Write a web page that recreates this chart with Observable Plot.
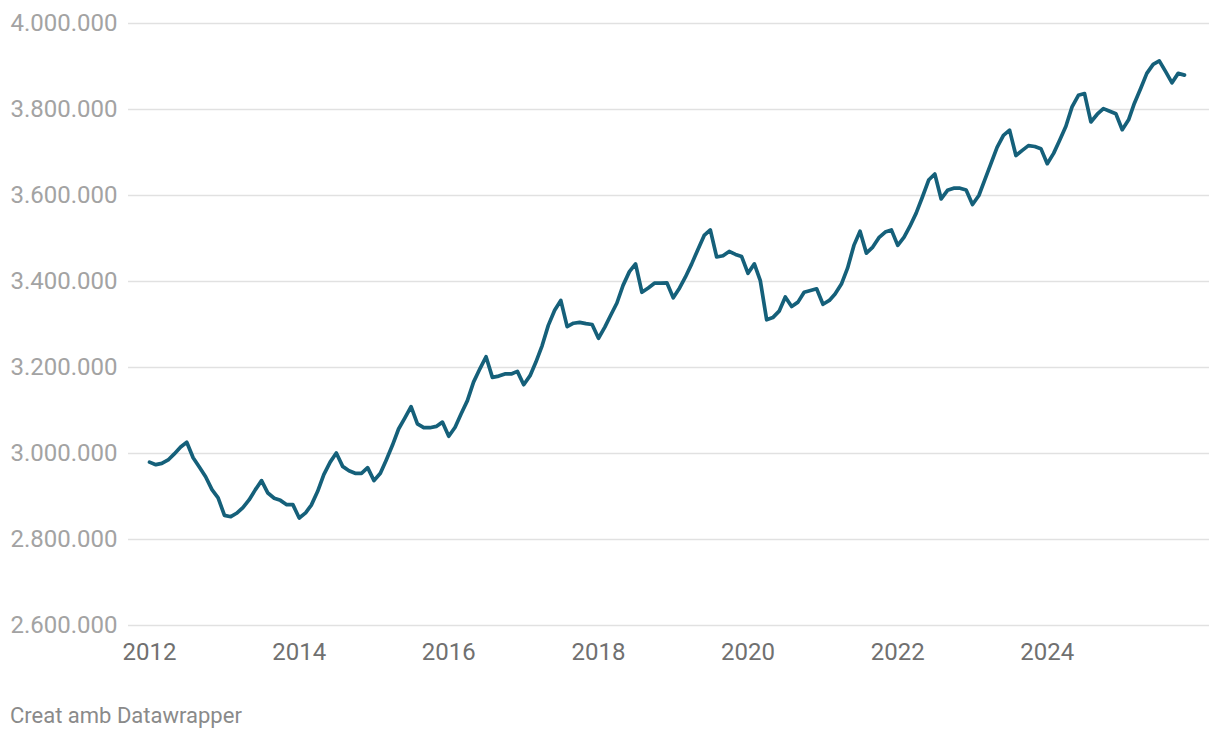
<!DOCTYPE html>
<html>
<head>
<meta charset="utf-8">
<script src="https://cdn.jsdelivr.net/npm/d3@7"></script>
<script src="https://cdn.jsdelivr.net/npm/@observablehq/plot@0.6"></script>
<style>
  html, body { margin: 0; padding: 0; background: #ffffff; }
  body { width: 1220px; height: 740px; position: relative; overflow: hidden; font-family: Roboto, "Noto Sans", sans-serif; }
  #chart { position: absolute; left: 0; top: 0; }
  #caption { position: absolute; left: 10px; top: 705px; font-size: 22px; line-height: 22px; color: #8a8a8a; font-family: Roboto, sans-serif; }
</style>
</head>
<body>
<div id="chart"></div>
<div id="caption">Creat amb Datawrapper</div>
<script>
// Monthly values (thousands), January 2012 .. November 2025
const startYear = 2012;
const values = [
  // 2012
  2980, 2974, 2977, 2985, 2999, 3015, 3026, 2990, 2968, 2946, 2916, 2897,
  // 2013
  2856, 2853, 2861, 2874, 2892, 2916, 2937, 2908, 2896, 2891, 2881, 2881,
  // 2014
  2850, 2862, 2880, 2912, 2951, 2980, 3001, 2970, 2960, 2954, 2954, 2967,
  // 2015
  2937, 2954, 2984, 3019, 3057, 3083, 3109, 3069, 3060, 3060, 3063, 3073,
  // 2016
  3040, 3061, 3092, 3123, 3166, 3197, 3225, 3177, 3180, 3185, 3185, 3191,
  // 2017
  3160, 3181, 3212, 3251, 3298, 3333, 3356, 3295, 3303, 3305, 3302, 3300,
  // 2018
  3268, 3294, 3321, 3350, 3391, 3423, 3441, 3375, 3385, 3396, 3396, 3397,
  // 2019
  3362, 3385, 3410, 3441, 3474, 3507, 3520, 3457, 3460, 3470, 3463, 3458,
  // 2020
  3419, 3441, 3402, 3311, 3316, 3331, 3364, 3342, 3352, 3375, 3379, 3383,
  // 2021
  3347, 3356, 3371, 3394, 3431, 3484, 3517, 3466, 3480, 3502, 3515, 3520,
  // 2022
  3484, 3503, 3528, 3559, 3596, 3636, 3650, 3592, 3612, 3617, 3617, 3613,
  // 2023
  3579, 3600, 3635, 3674, 3712, 3740, 3752, 3693, 3705, 3716, 3714, 3709,
  // 2024
  3674, 3698, 3728, 3761, 3806, 3833, 3837, 3771, 3789, 3802, 3796, 3790,
  // 2025
  3753, 3776, 3814, 3849, 3884, 3905, 3913, 3888, 3862, 3884, 3880
];
const xTickYears = [2012, 2014, 2016, 2018, 2020, 2022, 2024];
const yTicks = [2600000, 2800000, 3000000, 3200000, 3400000, 3600000, 3800000, 4000000];

const data = values.map((v, i) => ({
  date: new Date(Date.UTC(startYear, i, 1)),
  value: v * 1000
}));
const xTicks = xTickYears.map(y => new Date(Date.UTC(y, 0, 1)));

const locale = d3.formatLocale({decimal: ",", thousands: ".", grouping: [3], currency: ["", ""]});
const fmt = locale.format(",");

const chart = Plot.plot({
  width: 1220,
  height: 680,
  marginLeft: 149,
  marginRight: 36,
  marginTop: 23,
  marginBottom: 55,
  style: {fontFamily: "Roboto, sans-serif", background: "#ffffff", overflow: "visible"},
  x: {type: "utc", domain: [data[0].date, data[data.length - 1].date]},
  y: {domain: [2600000, 4000000], axis: null},
  marks: [
    Plot.ruleY(yTicks, {stroke: "#e1e1e1", strokeWidth: 1.3, insetLeft: -21, insetRight: -25}),
    Plot.text(yTicks, {
      y: d => d, text: d => fmt(d), frameAnchor: "left", dx: -139,
      textAnchor: "start", fill: "#a3a3a3", fontSize: 24
    }),
    Plot.axisX(xTicks, {
      tickSize: 0, tickPadding: 17, tickFormat: d => String(d.getUTCFullYear()),
      fontSize: 24, fill: "#707070", label: null
    }),
    Plot.lineY(data, {
      x: "date", y: "value", stroke: "#15607a", strokeWidth: 3.7,
      strokeLinejoin: "round", strokeLinecap: "round"
    })
  ]
});
document.getElementById("chart").appendChild(chart);
</script>
</body>
</html>
